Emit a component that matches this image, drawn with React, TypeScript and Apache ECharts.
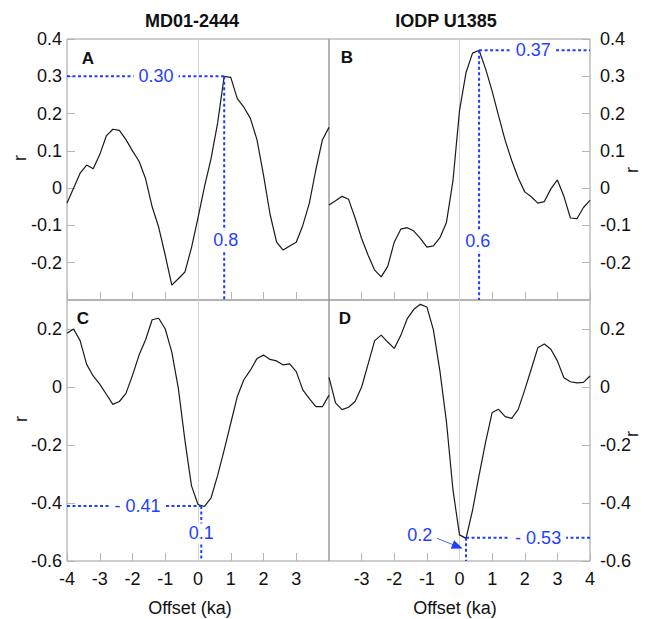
import React, { useEffect, useRef } from "react";
import * as echarts from "echarts";

// Offset (ka)
const offsets = [
  -4.0, -3.8, -3.6, -3.4, -3.2, -3.0, -2.8, -2.6, -2.4, -2.2, -2.0, -1.8, -1.6, -1.4,
  -1.2, -1.0, -0.8, -0.6, -0.4, -0.2, 0.0, 0.2, 0.4, 0.6, 0.8, 1.0, 1.2, 1.4, 1.6,
  1.8, 2.0, 2.2, 2.4, 2.6, 2.8, 3.0, 3.2, 3.4, 3.6, 3.8, 4.0,
];

// Panel A: MD01-2444 (top)
const rA = [
  -0.04, 0.0, 0.04, 0.062, 0.052, 0.09, 0.14, 0.158, 0.155, 0.13, 0.1, 0.072, 0.025, -0.05,
  -0.105, -0.18, -0.26, -0.243, -0.225, -0.16, -0.08, 0.005, 0.08, 0.175, 0.3, 0.297, 0.24, 0.217,
  0.187, 0.13, 0.035, -0.07, -0.145, -0.166, -0.155, -0.145, -0.1, -0.04, 0.05, 0.13, 0.163,
];

// Panel B: IODP U1385 (top)
const rB = [
  -0.045, -0.034, -0.022, -0.03, -0.08, -0.135, -0.18, -0.22, -0.238, -0.21, -0.145, -0.11, -0.106,
  -0.115, -0.135, -0.158, -0.155, -0.133, -0.092, 0.02, 0.208, 0.31, 0.362, 0.37, 0.32, 0.26, 0.193,
  0.128, 0.074, 0.027, -0.01, -0.023, -0.04, -0.036, -0.002, 0.022, -0.022, -0.08, -0.082, -0.052,
  -0.033,
];

// Panel C: MD01-2444 (bottom)
const rC = [
  0.185, 0.2, 0.16, 0.078, 0.038, 0.01, -0.025, -0.06, -0.05, -0.022, 0.04, 0.11, 0.163, 0.232,
  0.237, 0.2, 0.12, -0.005, -0.183, -0.34, -0.405, -0.412, -0.382, -0.305, -0.217, -0.125, -0.033,
  0.025, 0.058, 0.098, 0.11, 0.095, 0.09, 0.076, 0.08, 0.053, -0.01, -0.04, -0.068, -0.068, -0.028,
];

// Panel D: IODP U1385 (bottom)
const rD = [
  0.033, -0.055, -0.078, -0.07, -0.05, 0.0, 0.08, 0.16, 0.179, 0.155, 0.133, 0.178, 0.236, 0.268,
  0.285, 0.276, 0.197, 0.055, -0.12, -0.355, -0.51, -0.522, -0.425, -0.305, -0.19, -0.088, -0.077,
  -0.102, -0.108, -0.077, -0.01, 0.062, 0.135, 0.148, 0.13, 0.09, 0.032, 0.018, 0.014, 0.016, 0.038,
];

// Tick labels
const xTicksC = ["-4", "-3", "-2", "-1", "0", "1", "2", "3"];
const xTicksD = ["-3", "-2", "-1", "0", "1", "2", "3", "4"];

// Annotated extremes: [offset, r]
const peakA = [0.8, 0.3];
const peakB = [0.6, 0.37];
const troughC = [0.1, -0.41];
const troughD = [0.2, -0.52];
const annotTexts = ["0.30", "0.8", "0.37", "0.6", "- 0.41", "0.1", "- 0.53", "0.2"];

const titles = ["MD01-2444", "IODP U1385"];
const panelLetters = ["A", "B", "C", "D"];

const FONT = "'Liberation Sans', Arial, Helvetica, sans-serif";
const BLUE = "#1f3fff";
const FRAME = "#9a9a9a";
const TICK = "#b5b5b5";

function fmt(v: number) {
  if (Math.abs(v) < 1e-9) return "0";
  return String(Math.round(v * 10) / 10);
}

export default function App() {
  const ref = useRef<HTMLDivElement>(null);

  useEffect(() => {
    if (!ref.current) return;
    const chart = echarts.init(ref.current, undefined, { renderer: "svg" });

    const grids = [
      { left: 67, top: 39, width: 262, height: 261 },
      { left: 329, top: 39, width: 261, height: 261 },
      { left: 67, top: 300, width: 262, height: 261 },
      { left: 329, top: 300, width: 261, height: 261 },
    ].map((g) => ({ ...g, show: true, borderColor: FRAME, borderWidth: 1, backgroundColor: "transparent" }));

    const xAxes = [0, 1, 2, 3].map((i) => ({
      type: "value",
      gridIndex: i,
      min: -4,
      max: 4,
      interval: 1,
      position: "bottom",
      axisLine: { show: false, onZero: false },
      axisTick: { show: true, inside: true, length: 8, lineStyle: { color: TICK } },
      splitLine: { show: false },
      axisLabel: {
        show: i >= 2,
        fontSize: 18,
        fontFamily: FONT,
        color: "#111",
        margin: 9,
        formatter: (v: number) => {
          const s = fmt(v);
          const list = i === 2 ? xTicksC : xTicksD;
          return list.indexOf(s) >= 0 ? s : "";
        },
      },
    }));

    const yAxes = [0, 1, 2, 3].map((i) => {
      const top = i < 2;
      const right = i % 2 === 1;
      return {
        type: "value",
        gridIndex: i,
        min: top ? -0.3 : -0.6,
        max: top ? 0.4 : 0.3,
        interval: top ? 0.1 : 0.2,
        position: right ? "right" : "left",
        axisLine: { show: false, onZero: false },
        axisTick: { show: true, inside: true, length: 8, lineStyle: { color: TICK } },
        splitLine: { show: false },
        axisLabel: {
          fontSize: 18,
          fontFamily: FONT,
          color: "#111",
          margin: right ? 10 : 5,
          formatter: (v: number) => {
            if (top && Math.abs(v + 0.3) < 1e-6) return "";
            if (!top && Math.abs(v - 0.3) < 1e-6) return "";
            return fmt(v);
          },
        },
      };
    });

    const curves = [rA, rB, rC, rD];
    const curveSeries = curves.map((r, i) => ({
      type: "line",
      xAxisIndex: i,
      yAxisIndex: i,
      data: offsets.map((x, k) => [x, r[k]]),
      showSymbol: false,
      lineStyle: { color: "#1a1a1a", width: 1.2 },
      z: 3,
      markLine: {
        silent: true,
        symbol: "none",
        label: { show: false },
        lineStyle: { color: "#d4d4d4", type: "solid", width: 1 },
        data: [{ xAxis: 0 }],
        z: 1,
      },
    }));

    const dotted = (i: number, pts: number[][]) => ({
      type: "line",
      xAxisIndex: i,
      yAxisIndex: i,
      data: pts,
      showSymbol: false,
      silent: true,
      lineStyle: { color: BLUE, width: 2, type: [3, 2.5] },
      z: 4,
    });

    const label = (i: number, x: number, y: number, text: string) => ({
      type: "scatter",
      xAxisIndex: i,
      yAxisIndex: i,
      data: [[x, y]],
      symbolSize: 0,
      silent: true,
      z: 6,
      itemStyle: { opacity: 1 },
      label: {
        show: true,
        position: "inside",
        formatter: text,
        color: BLUE,
        opacity: 1,
        fontSize: 18,
        fontFamily: FONT,
        backgroundColor: "#fff",
        padding: [1, 5],
      },
    });

    const guideSeries = [
      dotted(0, [[-4, peakA[1]], [peakA[0], peakA[1]]]),
      dotted(0, [[peakA[0], peakA[1]], [peakA[0], -0.3]]),
      label(0, -1.28, peakA[1], annotTexts[0]),
      label(0, peakA[0] + 0.05, -0.14, annotTexts[1]),

      dotted(1, [[peakB[0], peakB[1]], [4, peakB[1]]]),
      dotted(1, [[peakB[0], peakB[1]], [peakB[0], -0.3]]),
      label(1, 2.26, peakB[1], annotTexts[2]),
      label(1, peakB[0] - 0.04, -0.142, annotTexts[3]),

      dotted(2, [[-4, troughC[1]], [troughC[0], troughC[1]]]),
      dotted(2, [[troughC[0], troughC[1]], [troughC[0], -0.6]]),
      label(2, -1.85, troughC[1], annotTexts[4]),
      label(2, troughC[0], -0.505, annotTexts[5]),

      dotted(3, [[troughD[0], troughD[1]], [4, troughD[1]]]),
      dotted(3, [[troughD[0], troughD[1]], [troughD[0], -0.6]]),
      label(3, 2.41, troughD[1], annotTexts[6]),
      label(3, -1.22, -0.512, annotTexts[7]),
      {
        type: "line",
        xAxisIndex: 3,
        yAxisIndex: 3,
        data: [],
        silent: true,
        markLine: {
          silent: true,
          symbol: ["none", "triangle"],
          symbolSize: [9, 11],
          label: { show: false },
          lineStyle: { color: BLUE, type: "solid", width: 0.8 },
          data: [[{ coord: [-0.82, -0.516] }, { coord: [-0.06, -0.55] }]],
        },
      },
    ];

    const txt = (x: number, y: number, text: string, size: number, bold: boolean, rotation = 0) => ({
      type: "text",
      x,
      y,
      rotation,
      style: {
        text,
        fill: "#111",
        font: `${bold ? "bold " : ""}${size}px ${FONT}`,
        textAlign: "center",
        textVerticalAlign: "middle",
      },
      z: 10,
    });

    const graphic = [
      txt(192, 21, titles[0], 18, true),
      txt(446, 21, titles[1], 18, true),
      txt(88, 58, panelLetters[0], 17, true),
      txt(347, 57, panelLetters[1], 17, true),
      txt(83, 318, panelLetters[2], 17, true),
      txt(345, 318, panelLetters[3], 17, true),
      txt(190, 608, "Offset (ka)", 18, false),
      txt(455, 608, "Offset (ka)", 18, false),
      txt(20, 158, "r", 18, false, Math.PI / 2),
      txt(21, 419, "r", 18, false, Math.PI / 2),
      txt(632, 170, "r", 18, false, Math.PI / 2),
      txt(632, 434, "r", 18, false, Math.PI / 2),
    ];

    chart.setOption({
      animation: false,
      backgroundColor: "#fff",
      grid: grids,
      xAxis: xAxes,
      yAxis: yAxes,
      series: [...curveSeries, ...guideSeries],
      graphic,
    });

    return () => chart.dispose();
  }, []);

  return (
    <div
      ref={ref}
      style={{ position: "fixed", left: 0, top: 0, width: 645, height: 619, background: "#fff" }}
    />
  );
}
